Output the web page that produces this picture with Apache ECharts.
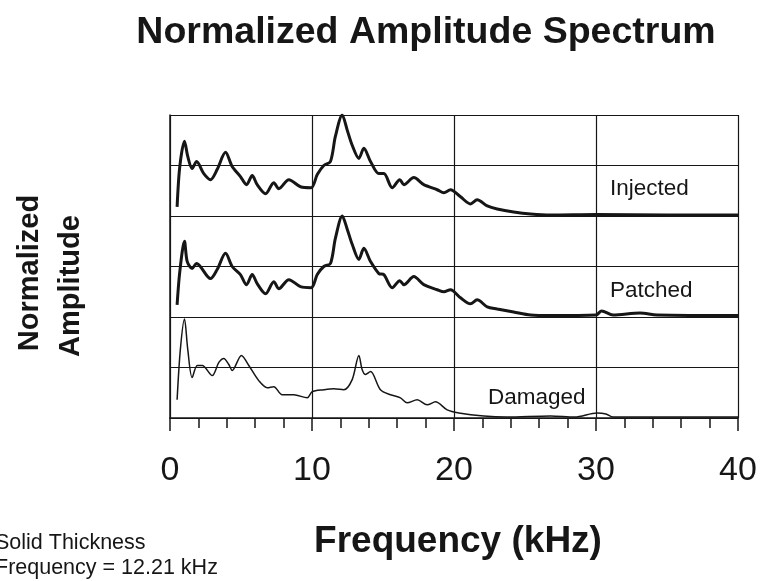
<!DOCTYPE html>
<html>
<head>
<meta charset="utf-8">
<script src="https://cdn.jsdelivr.net/npm/echarts@6/dist/echarts.min.js"></script>
<style>
html,body{margin:0;padding:0;background:#fff;}
#chart{width:761px;height:581px;}
</style>
</head>
<body>
<div id="chart"></div>
<script>
// Frequency (kHz) and normalized amplitude (0..1) for each trace
var injectedFreq = [0.5,0.69,1.02,1.25,1.56,1.87,2.38,2.85,3.32,3.91,4.38,4.96,5.39,5.79,6.14,6.73,7.31,7.66,8.37,9.19,9.94,10.37,10.83,11.3,11.65,12.13,12.48,12.83,13.3,13.65,14.12,14.71,15.06,15.65,16.18,16.47,17.17,17.87,18.82,19.29,19.75,20.46,21.16,21.63,22.34,23.04,24.2,25.4,26.8,30.0,35.0,40.0];
var injectedAmp  = [0.09,0.49,0.74,0.59,0.47,0.54,0.42,0.36,0.46,0.63,0.49,0.39,0.31,0.40,0.31,0.22,0.33,0.27,0.36,0.29,0.28,0.41,0.50,0.54,0.79,1.0,0.85,0.70,0.57,0.67,0.54,0.42,0.42,0.28,0.36,0.31,0.38,0.31,0.26,0.23,0.26,0.19,0.12,0.16,0.10,0.07,0.04,0.02,0.01,0.015,0.01,0.01];

var patchedFreq = [0.5,0.69,1.02,1.21,1.56,1.87,2.85,3.32,3.91,4.38,4.96,5.39,5.79,6.14,6.73,7.31,7.66,8.37,9.19,9.94,10.37,10.83,11.3,11.65,12.13,12.48,12.83,13.3,13.65,14.12,14.71,15.06,15.65,16.18,16.47,17.17,17.87,18.82,19.29,19.75,20.46,21.16,21.63,22.34,23.04,24.2,25.4,26.8,30.0,30.4,31.2,33.1,34.3,40.0];
var patchedAmp  = [0.12,0.45,0.75,0.55,0.48,0.53,0.38,0.47,0.63,0.50,0.42,0.32,0.42,0.33,0.23,0.35,0.28,0.37,0.30,0.29,0.42,0.50,0.53,0.78,1.0,0.87,0.72,0.57,0.68,0.55,0.43,0.42,0.29,0.36,0.32,0.40,0.32,0.27,0.25,0.27,0.19,0.13,0.17,0.10,0.08,0.05,0.02,0.015,0.02,0.06,0.02,0.04,0.02,0.015];

var damagedFreq = [0.5,0.73,1.02,1.25,1.56,1.92,2.27,2.97,3.44,3.79,4.14,4.38,5.03,5.55,6.25,6.85,7.31,7.9,8.72,9.66,10.01,10.83,11.54,12.24,12.83,13.3,13.53,13.77,14.12,14.82,15.53,16.23,16.7,17.41,18.11,18.7,19.52,20.34,22.1,23.7,26.8,28.5,30.08,30.7,31.2,40.0];
var damagedAmp  = [0.18,0.68,0.98,0.68,0.40,0.52,0.52,0.42,0.55,0.59,0.53,0.47,0.62,0.52,0.37,0.30,0.31,0.23,0.23,0.20,0.26,0.28,0.29,0.28,0.38,0.62,0.48,0.43,0.46,0.28,0.23,0.20,0.15,0.18,0.13,0.16,0.08,0.05,0.02,0.01,0.02,0.01,0.05,0.04,0.01,0.01];

var traceNames = ['Injected','Patched','Damaged'];
var traceOffsets = [2, 1, 0];
var xTicks = [0,10,20,30,40];

function pairs(fs, as, off){ return fs.map(function(f,i){ return [f, as[i] + off]; }); }

var chart = echarts.init(document.getElementById('chart'), null, {renderer:'canvas'});
var ink = '#161616';
var font = '"Liberation Sans", Arial, Helvetica, sans-serif';

chart.setOption({
  animation:false,
  backgroundColor:'#fff',
  grid:{left:170, right:23, top:115, bottom:163},
  xAxis:{
    type:'value', min:0, max:40, interval:10,
    axisLine:{show:true, lineStyle:{color:ink, width:1.5}},
    axisTick:{show:true, length:13, lineStyle:{color:ink, width:1.5}},
    minorTick:{show:true, splitNumber:5, length:10, lineStyle:{color:ink, width:1.5}},
    splitLine:{show:true, lineStyle:{color:ink, width:1.2}},
    axisLabel:{fontSize:34, color:ink, margin:36, fontFamily:font,
      formatter:function(v){ return xTicks.indexOf(v)>=0 ? String(v) : ''; }}
  },
  yAxis:{
    type:'value', min:0, max:3, interval:0.5,
    axisLine:{show:true, lineStyle:{color:ink, width:1.5}},
    axisTick:{show:false}, axisLabel:{show:false},
    splitLine:{show:true, lineStyle:{color:ink, width:1.2}}
  },
  series:[
    {name:traceNames[0], type:'line', data:pairs(injectedFreq, injectedAmp, traceOffsets[0]), showSymbol:false, smooth:0.3, lineStyle:{color:ink, width:3}},
    {name:traceNames[1], type:'line', data:pairs(patchedFreq, patchedAmp, traceOffsets[1]), showSymbol:false, smooth:0.3, lineStyle:{color:ink, width:3}},
    {name:traceNames[2], type:'line', data:pairs(damagedFreq, damagedAmp, traceOffsets[2]), showSymbol:false, smooth:0.3, lineStyle:{color:ink, width:1.5}}
  ],
  graphic:[
    {type:'text', x:426, y:33, z:10, style:{text:'Normalized Amplitude Spectrum', font:'bold 37.5px '+font, fill:ink, textAlign:'center', textVerticalAlign:'middle'}},
    {type:'text', x:30, y:273, rotation:Math.PI/2, z:10, style:{text:'Normalized', font:'bold 29px '+font, fill:ink, textAlign:'center', textVerticalAlign:'middle'}},
    {type:'text', x:71, y:286, rotation:Math.PI/2, z:10, style:{text:'Amplitude', font:'bold 29px '+font, fill:ink, textAlign:'center', textVerticalAlign:'middle'}},
    {type:'text', x:458, y:542, z:10, style:{text:'Frequency (kHz)', font:'bold 37px '+font, fill:ink, textAlign:'center', textVerticalAlign:'middle'}},
    {type:'text', x:-5, y:543, z:10, style:{text:'Solid Thickness', font:'21.5px '+font, fill:ink, textVerticalAlign:'middle'}},
    {type:'text', x:-5, y:568, z:10, style:{text:'Frequency = 12.21 kHz', font:'21.5px '+font, fill:ink, textVerticalAlign:'middle'}},
    {type:'text', x:610, y:189, z:10, style:{text:traceNames[0], font:'22.5px '+font, fill:ink, textVerticalAlign:'middle'}},
    {type:'text', x:610, y:291, z:10, style:{text:traceNames[1], font:'22.5px '+font, fill:ink, textVerticalAlign:'middle'}},
    {type:'text', x:488, y:398, z:10, style:{text:traceNames[2], font:'22.5px '+font, fill:ink, textVerticalAlign:'middle'}}
  ]
});
</script>
</body>
</html>
